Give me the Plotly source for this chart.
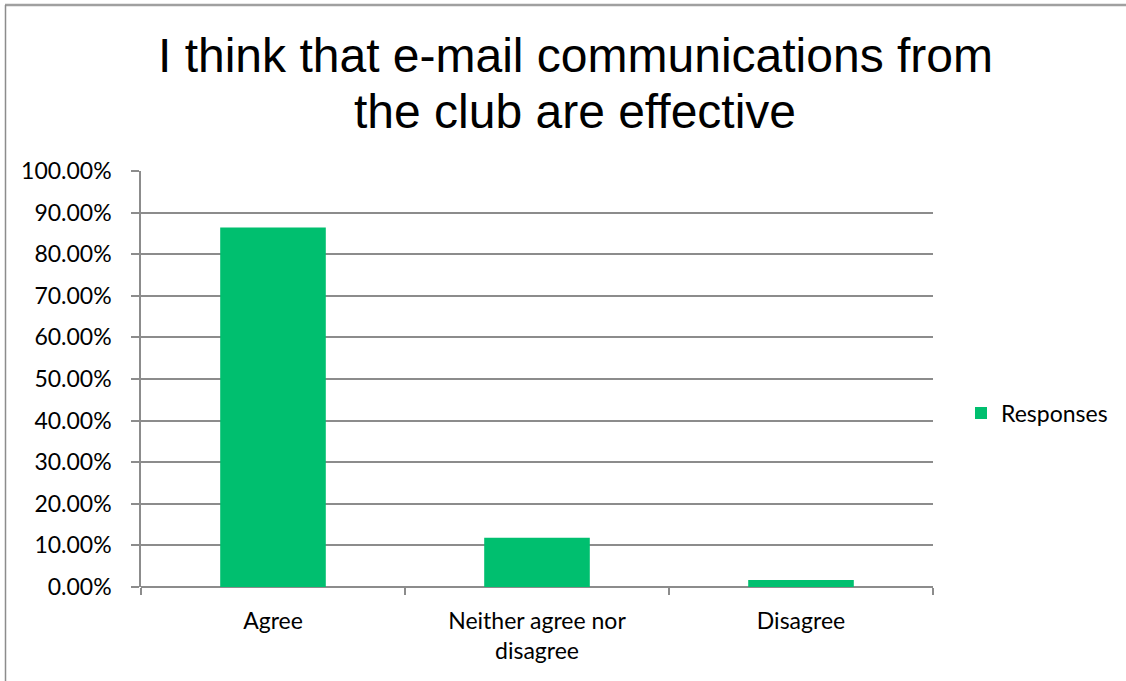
import plotly.graph_objects as go

categories = ["Agree", "Neither agree nor<br>disagree", "Disagree"]
responses = [0.8644, 0.1186, 0.0169]
title_lines = ["I think that e-mail communications from", "the club are effective"]
series_name = "Responses"

W, H = 1126, 681
L, R, T, B = 141, 933, 171, 587

def px(x):
    return (x - L) / (R - L)

def py(y):
    return (B - y) / (B - T)

fig = go.Figure()
fig.add_trace(go.Bar(
    x=categories, y=responses, name=series_name,
    marker=dict(color="#00BF6F", line=dict(width=0)),
    showlegend=True,
))

tick_font = dict(family="Lato", size=23, color="#000000")

fig.update_layout(
    width=W, height=H,
    margin=dict(l=L, r=W - R, t=T, b=H - B, pad=0),
    paper_bgcolor="white", plot_bgcolor="white",
    bargap=0.6,
    showlegend=True,
    legend=dict(x=px(961), y=py(413), xanchor="left", yanchor="middle",
                font=tick_font, bgcolor="rgba(0,0,0,0)"),
    xaxis=dict(
        showgrid=False, showline=False, tickson="boundaries",
        ticks="outside", ticklen=7, tickcolor="#8C8C8C", tickwidth=1.5,
        tickfont=tick_font, ticklabelstandoff=18,
    ),
    yaxis=dict(
        range=[0, 1], dtick=0.1, tickformat=".2%",
        showgrid=True, gridcolor="#8C8C8C", gridwidth=1.5,
        showline=True, linecolor="#8C8C8C", linewidth=1.5,
        ticks="outside", ticklen=8, tickcolor="#8C8C8C", tickwidth=1.5,
        tickfont=tick_font, ticklabelstandoff=15,
        zeroline=True, zerolinecolor="#8C8C8C", zerolinewidth=1.5,
    ),
)

for text, ymid in zip(title_lines, [55, 111]):
    fig.add_annotation(
        text=text, x=px(575), y=py(ymid), xref="paper", yref="paper",
        xanchor="center", yanchor="middle", showarrow=False,
        font=dict(family="Liberation Sans", size=48, color="#000000"),
    )

# outer frame
fig.add_shape(type="line", xref="paper", yref="paper",
              x0=px(5), x1=px(1126), y0=py(5), y1=py(5),
              line=dict(color="#A0A0A0", width=2.5))
fig.add_shape(type="line", xref="paper", yref="paper",
              x0=px(5.5), x1=px(5.5), y0=py(5), y1=py(681),
              line=dict(color="#8C8C8C", width=1.5))

fig.write_html(
    "out.html",
    config={"displayModeBar": False},
    post_script="document.body.style.margin='0';document.body.style.overflow='hidden';",
)
